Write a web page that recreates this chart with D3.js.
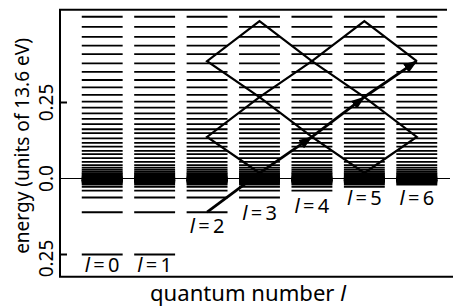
<!DOCTYPE html>
<html>
<head>
<meta charset="utf-8">
<script src="https://cdn.jsdelivr.net/npm/d3@7"></script>
<style>
  body { margin: 0; background: #fff; }
  text { font-family: "Noto Sans", sans-serif; fill: #000; }
</style>
</head>
<body>
<div id="grafNiveles"></div>
<script>
// Datos (energia en unidades de 13.6 eV)
const ells = [0, 1, 2, 3, 4, 5, 6]
// niveles ligados n = 2, 3, 4 ...
const boundN = [2, 3, 4, 5, 6, 7, 8, 9, 10, 11, 12, 13, 14, 15, 16, 17]
const boundE = [-0.25, -0.111, -0.0625, -0.04, -0.0278, -0.0204, -0.0156, -0.0123,
  -0.01, -0.0083, -0.0069, -0.0059, -0.0051, -0.0044, -0.0039, -0.0035]
// niveles del continuo discretizado
const freeE = [0.532, 0.499, 0.466, 0.437, 0.409, 0.379, 0.351, 0.324, 0.300, 0.275,
  0.253, 0.233, 0.214, 0.196, 0.179, 0.162, 0.149, 0.132, 0.117, 0.105, 0.091,
  0.080, 0.067, 0.055, 0.044, 0.036, 0.029, 0.023, 0.018, 0.014, 0.010, 0.007,
  0.0045, 0.0025, 0.001]
// energia de cada paso (foton) en los caminos
const stepE = [-0.111, 0.018, 0.137, 0.268, 0.386, 0.518]
// caminos [l, paso]
const loopA = [[5, 1], [4, 2], [3, 3], [2, 4], [3, 5], [4, 4], [5, 3], [6, 2], [5, 1]]
const loopB = [[3, 1], [2, 2], [3, 3], [4, 4], [5, 5], [6, 4]]
const arrowPath = [[2, 0], [3, 1], [4, 2], [5, 3], [6, 4]]
// etiquetas
const yTicks = [0.25, 0, -0.25]
const yTickLabels = ["0.25", "0.0", "0.25"]
const labelE = [-0.308, -0.308, -0.180, -0.137, -0.114, -0.088, -0.088]

const ancho = 453
const alto = 307

const svg = d3.select("#grafNiveles")
  .append("svg")
  .attr("width", ancho)
  .attr("height", alto)

const x = d3.scaleBand().domain(ells).range([76, 443]).paddingInner(0.22).paddingOuter(0.11)
const y = d3.scaleLinear().domain([-0.25, 0.25]).range([254.5, 102.5])
const cx = (l) => x(l) + x.bandwidth() / 2
const yTop = y(0.555)
const yBot = y(-0.323)

const defs = svg.append("defs")
defs.append("marker")
  .attr("id", "punta")
  .attr("markerUnits", "userSpaceOnUse")
  .attr("viewBox", "0 0 14 10")
  .attr("refX", 13)
  .attr("refY", 5)
  .attr("markerWidth", 14)
  .attr("markerHeight", 10)
  .attr("orient", "auto")
  .append("path")
  .attr("d", "M0,0 L14,5 L0,10 Z")
  .attr("fill", "#000")

const clip = defs.append("clipPath").attr("id", "area")
clip.append("rect").attr("x", 60).attr("y", yTop + 2).attr("width", 393).attr("height", yBot - yTop - 2)

// Niveles de energia por columna
const niveles = ells.flatMap((l) => {
  const b = boundE.filter((e, i) => boundN[i] > l)
  return b.concat(freeE).map((e) => ({ l, e }))
})

const g = svg.append("g").attr("clip-path", "url(#area)")

// linea del cero
g.append("line")
  .attr("x1", 60).attr("x2", 450)
  .attr("y1", y(0)).attr("y2", y(0))
  .attr("stroke", "#000").attr("stroke-width", 1.2)

g.selectAll("line.nivel")
  .data(niveles)
  .enter()
  .append("line")
  .attr("class", "nivel")
  .attr("x1", (d) => x(d.l))
  .attr("x2", (d) => x(d.l) + x.bandwidth())
  .attr("y1", (d) => y(d.e))
  .attr("y2", (d) => y(d.e))
  .attr("stroke", "#000")
  .attr("stroke-width", 1.8)

// caminos en forma de rombo
const linea = d3.line().x((d) => cx(d[0])).y((d) => y(stepE[d[1]]))
g.selectAll("path.rombo")
  .data([loopA, loopB])
  .enter()
  .append("path")
  .attr("class", "rombo")
  .attr("d", linea)
  .attr("fill", "none")
  .attr("stroke", "#000")
  .attr("stroke-width", 2.2)
  .attr("stroke-linejoin", "miter")

// flecha
const tramos = d3.pairs(arrowPath)
g.selectAll("path.flecha")
  .data(tramos)
  .enter()
  .append("path")
  .attr("class", "flecha")
  .attr("d", (d) => linea(d))
  .attr("fill", "none")
  .attr("stroke", "#000")
  .attr("stroke-width", 2.8)
  .attr("marker-end", (d, i) => (i > 0 ? "url(#punta)" : null))

// marco
const marco = svg.append("g").attr("stroke", "#000").attr("stroke-width", 2)
marco.append("line").attr("x1", 60).attr("x2", 60).attr("y1", yTop).attr("y2", yBot)
marco.append("line").attr("x1", 59).attr("x2", 447).attr("y1", yTop).attr("y2", yTop)
marco.append("line").attr("x1", 59).attr("x2", 453).attr("y1", yBot).attr("y2", yBot)
marco.selectAll("line.tick")
  .data(yTicks.filter((t) => t !== 0))
  .enter()
  .append("line")
  .attr("class", "tick")
  .attr("x1", 60).attr("x2", 67)
  .attr("y1", (d) => y(d)).attr("y2", (d) => y(d))

// ajusta el tamano de letra a un largo dado
const ajustar = (sel, largo) => {
  sel.each(function () {
    const t = d3.select(this)
    const fs = parseFloat(t.attr("font-size"))
    const w = this.getComputedTextLength()
    t.attr("font-size", (fs * largo) / w)
  })
}

// etiquetas del eje y (rotadas)
svg.selectAll("text.ytick")
  .data(yTicks)
  .enter()
  .append("text")
  .attr("class", "ytick")
  .attr("transform", (d, i) => `translate(53, ${i === 2 ? y(d) + 4 : y(d)}) rotate(-90)`)
  .attr("text-anchor", "middle")
  .attr("font-size", 19)
  .text((d, i) => yTickLabels[i])

const yLab = svg.append("text")
  .attr("transform", `translate(29, 146) rotate(-90)`)
  .attr("text-anchor", "middle")
  .attr("font-size", 18)
  .text("energy (units of 13.6 eV)")
ajustar(yLab, 216)

// etiqueta eje x
const xLab = svg.append("text")
  .attr("x", 248)
  .attr("y", 301)
  .attr("text-anchor", "middle")
  .attr("font-size", 18)
xLab.append("tspan").text("quantum number ")
xLab.append("tspan").attr("font-style", "italic").text("l")
ajustar(xLab, 196)

// etiquetas l = n
const etq = svg.selectAll("text.ell")
  .data(ells)
  .enter()
  .append("text")
  .attr("class", "ell")
  .attr("x", (d) => cx(d))
  .attr("y", (d, i) => y(labelE[i]))
  .attr("text-anchor", "middle")
  .attr("font-size", 20)
etq.append("tspan").attr("font-style", "italic").text("l")
etq.append("tspan").text((d) => "\u2009=\u2009" + d)
</script>
</body>
</html>
